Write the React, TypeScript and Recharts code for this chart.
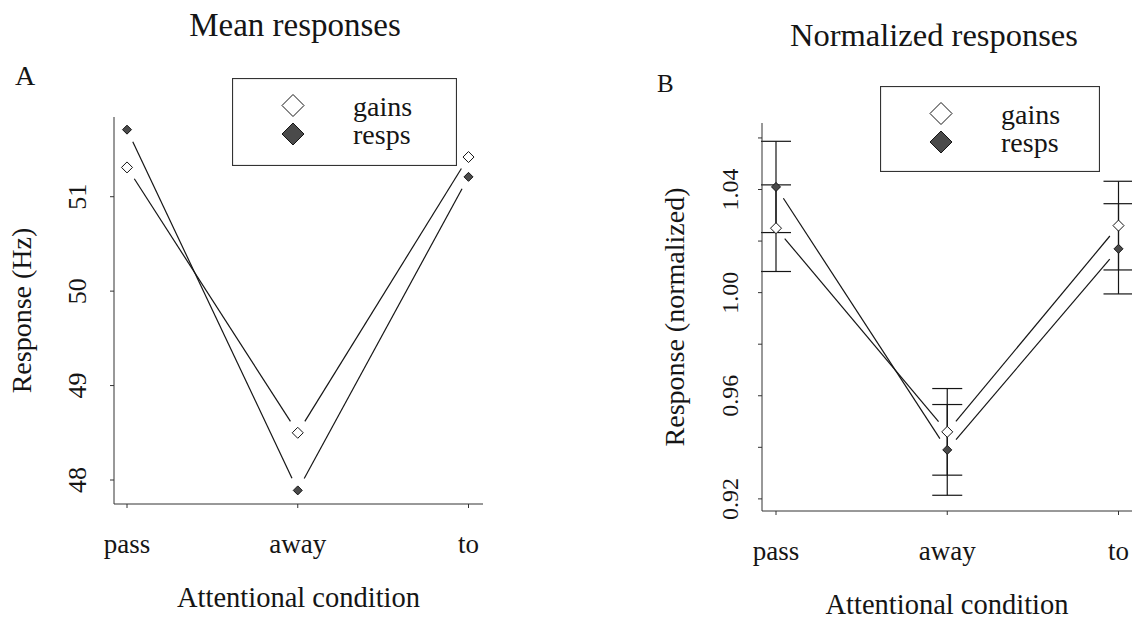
import React from "react";
import { LineChart, Line, XAxis, YAxis, ErrorBar, Legend } from "recharts";

const conditions = ["pass", "away", "to"];

// Panel A: mean responses (Hz)
const meanGains = [51.31, 48.5, 51.42];
const meanResps = [51.71, 47.89, 51.21];
const meanTicks = [48, 49, 50, 51];

// Panel B: normalized responses with error bars
const normGains = [1.025, 0.946, 1.026];
const normResps = [1.041, 0.939, 1.017];
const normGainsErr = [0.0168, 0.0168, 0.0172];
const normRespsErr = [0.0177, 0.0176, 0.0175];
const normTicks = [0.92, 0.94, 0.96, 0.98, 1.0, 1.02, 1.04, 1.06];
const normLabelled = [0.92, 0.96, 1.0, 1.04];

const SERIF = '"Liberation Serif", "DejaVu Serif", serif';
const INK = "#151515";
const RESP_FILL = "#4a4a4a";
const GAP = 13.5; // R type="b" style gap round each point

const meanData = conditions.map((c, i) => ({
    condition: c,
    gains: meanGains[i],
    resps: meanResps[i],
}));

const normData = conditions.map((c, i) => ({
    condition: c,
    gains: normGains[i],
    resps: normResps[i],
    gainsErr: normGainsErr[i],
    respsErr: normRespsErr[i],
}));

const txt = (size: number): React.CSSProperties => ({ fontFamily: SERIF, fontSize: size, fill: INK });

const Diamond = ({ cx, cy, s, filled }: { cx: number; cy: number; s: number; filled: boolean }) => (
    <path
        d={`M${cx},${cy - s}L${cx + s},${cy}L${cx},${cy + s}L${cx - s},${cy}Z`}
        fill={filled ? RESP_FILL : "#ffffff"}
        stroke={INK}
        strokeWidth={1}
    />
);

// each dot draws the gapped segment back to the previous point of its series
const registry: Record<string, { x: number; y: number }[]> = {};

function makeDot(id: string, filled: boolean, size: number) {
    return (props: any) => {
        const { cx, cy, index } = props;
        if (cx == null || cy == null) return <g key={`${id}-${index}`} />;
        const pts = (registry[id] = registry[id] || []);
        pts[index] = { x: cx, y: cy };
        const prev = index > 0 ? pts[index - 1] : undefined;
        let seg = null;
        if (prev) {
            const dx = cx - prev.x;
            const dy = cy - prev.y;
            const len = Math.hypot(dx, dy) || 1;
            const ux = dx / len;
            const uy = dy / len;
            seg = (
                <line
                    x1={prev.x + ux * GAP}
                    y1={prev.y + uy * GAP}
                    x2={cx - ux * GAP}
                    y2={cy - uy * GAP}
                    stroke={INK}
                    strokeWidth={1.2}
                />
            );
        }
        return (
            <g key={`${id}-${index}`}>
                {seg}
                <Diamond cx={cx} cy={cy} s={size} filled={filled} />
            </g>
        );
    };
}

const YTick = (props: any) => {
    const { x, y, payload, shift, size, show, digits } = props;
    const v = payload.value as number;
    if (show && !show.some((s: number) => Math.abs(s - v) < 1e-9)) return <g />;
    return (
        <text transform={`translate(${x - shift},${y}) rotate(-90)`} textAnchor="middle" style={txt(size)}>
            {v.toFixed(digits)}
        </text>
    );
};

const XTick = (props: any) => {
    const { x, y, payload } = props;
    return (
        <text x={x} y={y + 43} textAnchor="middle" style={txt(27)}>
            {payload.value}
        </text>
    );
};

const XTitle = (props: any) => {
    const { viewBox, text } = props;
    return (
        <text x={viewBox.x + viewBox.width / 2} y={viewBox.y + 103} textAnchor="middle" style={txt(28.5)}>
            {text}
        </text>
    );
};

const YTitle = (props: any) => {
    const { viewBox, text, baseX } = props;
    const cy = viewBox.y + viewBox.height / 2;
    return (
        <text
            transform={`translate(${viewBox.x + baseX},${cy}) rotate(-90)`}
            textAnchor="middle"
            style={txt(28)}
        >
            {text}
        </text>
    );
};

const LegendBox = (props: any) => {
    const { payload, w, h } = props;
    const items = (payload || []).filter((p: any) => p.type !== "none");
    return (
        <svg width={w} height={h} style={{ display: "block" }}>
            <rect x={0.5} y={0.5} width={w - 1} height={h - 1} fill="#ffffff" stroke="#333" strokeWidth={1.2} />
            {items.map((entry: any, i: number) => {
                const cy = 27.5 + i * 28.5;
                return (
                    <g key={`leg-${i}`}>
                        <Diamond cx={61} cy={cy} s={11} filled={entry.dataKey === "resps"} />
                        <text x={121} y={cy + 10} style={txt(28)}>
                            {entry.value}
                        </text>
                    </g>
                );
            })}
        </svg>
    );
};

export default function App() {
    return (
        <div
            style={{
                position: "absolute",
                left: 0,
                top: 0,
                width: 1132,
                height: 622,
                background: "#ffffff",
                overflow: "hidden",
                fontFamily: SERIF,
            }}
        >
            {/* A: mean responses */}
            <div style={{ position: "absolute", left: 0, top: 0 }}>
                <LineChart width={566} height={622} data={meanData} margin={{ top: 117, right: 83, bottom: 0, left: 0 }}>
                    <XAxis
                        dataKey="condition"
                        scale="point"
                        padding={{ left: 13, right: 14.5 }}
                        height={118}
                        tickSize={4}
                        tickMargin={2}
                        axisLine={{ stroke: "#333" }}
                        tickLine={{ stroke: "#333" }}
                        tick={<XTick />}
                        label={<XTitle text="Attentional condition" />}
                    />
                    <YAxis
                        type="number"
                        domain={[47.746, 51.844]}
                        ticks={meanTicks}
                        width={114}
                        tickSize={4}
                        tickMargin={2}
                        axisLine={{ stroke: "#333" }}
                        tickLine={{ stroke: "#333" }}
                        tick={<YTick shift={22} size={26} digits={0} />}
                        label={<YTitle text="Response (Hz)" baseX={31} />}
                    />
                    <Legend
                        layout="vertical"
                        verticalAlign="middle"
                        align="center"
                        wrapperStyle={{ left: 232, top: 78, width: 225, height: 88 }}
                        content={<LegendBox w={225} h={88} />}
                    />
                    <Line
                        dataKey="gains"
                        name="gains"
                        stroke="none"
                        dot={makeDot("A-gains", false, 5.5)}
                        activeDot={false}
                        isAnimationActive={false}
                    />
                    <Line
                        dataKey="resps"
                        name="resps"
                        stroke="none"
                        dot={makeDot("A-resps", true, 4.5)}
                        activeDot={false}
                        isAnimationActive={false}
                    />
                </LineChart>
            </div>

            {/* B: normalized responses */}
            <div style={{ position: "absolute", left: 566, top: 0 }}>
                <LineChart width={566} height={622} data={normData} margin={{ top: 123, right: 0, bottom: 0, left: 0 }}>
                    <XAxis
                        dataKey="condition"
                        scale="point"
                        padding={{ left: 14, right: 13.5 }}
                        height={111}
                        tickSize={4}
                        tickMargin={2}
                        axisLine={{ stroke: "#333" }}
                        tickLine={{ stroke: "#333" }}
                        tick={<XTick />}
                        label={<XTitle text="Attentional condition" />}
                    />
                    <YAxis
                        type="number"
                        domain={[0.9153, 1.0658]}
                        ticks={normTicks}
                        width={196}
                        tickSize={4}
                        tickMargin={2}
                        axisLine={{ stroke: "#333" }}
                        tickLine={{ stroke: "#333" }}
                        tick={<YTick shift={18} size={24} digits={2} show={normLabelled} />}
                        label={<YTitle text="Response (normalized)" baseX={118} />}
                    />
                    <Legend
                        layout="vertical"
                        verticalAlign="middle"
                        align="center"
                        wrapperStyle={{ left: 314, top: 86, width: 220, height: 86 }}
                        content={<LegendBox w={220} h={86} />}
                    />
                    <Line
                        dataKey="gains"
                        name="gains"
                        stroke="none"
                        dot={makeDot("B-gains", false, 5.5)}
                        activeDot={false}
                        isAnimationActive={false}
                    >
                        <ErrorBar dataKey="gainsErr" direction="y" width={15} stroke={INK} strokeWidth={1.2} />
                    </Line>
                    <Line
                        dataKey="resps"
                        name="resps"
                        stroke="none"
                        dot={makeDot("B-resps", true, 4.5)}
                        activeDot={false}
                        isAnimationActive={false}
                    >
                        <ErrorBar dataKey="respsErr" direction="y" width={15} stroke={INK} strokeWidth={1.2} />
                    </Line>
                </LineChart>
            </div>

            {/* titles and panel letters */}
            <svg
                width={1132}
                height={622}
                style={{ position: "absolute", left: 0, top: 0, pointerEvents: "none" }}
            >
                <text x={295} y={36} textAnchor="middle" style={txt(33)}>
                    Mean responses
                </text>
                <text x={15} y={85} style={txt(28)}>
                    A
                </text>
                <text x={934} y={46} textAnchor="middle" style={txt(32.5)}>
                    Normalized responses
                </text>
                <text x={657} y={92} style={txt(25)}>
                    B
                </text>
            </svg>
        </div>
    );
}
